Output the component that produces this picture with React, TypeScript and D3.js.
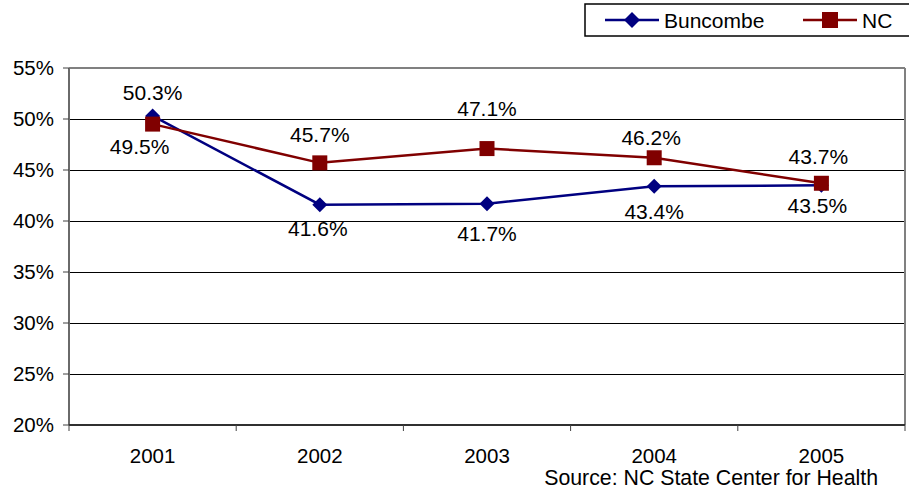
import React from "react";
import * as d3 from "d3";

const years = ["2001", "2002", "2003", "2004", "2005"];
const buncombe = [50.3, 41.6, 41.7, 43.4, 43.5];
const nc = [49.5, 45.7, 47.1, 46.2, 43.7];
const yTicks = [20, 25, 30, 35, 40, 45, 50, 55];
const sourceText = "Source: NC State Center for Health";

// label placement offsets (px) relative to each point
const buncombeLabelDy = [-24, 24, 30, 25, 20];
const buncombeLabelDx = [0, -2, 0, 0, -4];
const ncLabelDy = [22, -28, -40, -20, -27];
const ncLabelDx = [-13, 0, 0, -3, -3];

const W = 909;
const H = 489;
const M = { left: 69, right: 905, top: 68, bottom: 425 };
const BLUE = "#000080";
const RED = "#800000";
const FONT = "Liberation Sans, Arial, sans-serif";

export default function App() {
  const x = d3
    .scaleBand<string>()
    .domain(years)
    .range([M.left, M.right]);
  const y = d3.scaleLinear().domain([20, 55]).range([M.bottom, M.top]);
  const cx = (yr: string) => (x(yr) as number) + x.bandwidth() / 2;

  const line = d3
    .line<number>()
    .x((_, i) => cx(years[i]))
    .y((d) => y(d));

  const boundaries = years.map((yr) => x(yr) as number).concat([M.right]);

  const diamond = (px: number, py: number, r: number) =>
    `M${px},${py - r}L${px + r},${py}L${px},${py + r}L${px - r},${py}Z`;

  return (
    <svg
      width={W}
      height={H}
      style={{ position: "absolute", left: 0, top: 0, background: "#fff" }}
      fontFamily={FONT}
    >
      <rect x={0} y={0} width={W} height={H} fill="#fff" />
      {/* gridlines */}
      {yTicks
        .filter((t) => t !== 20 && t !== 55)
        .map((t) => (
          <line
            key={t}
            x1={M.left}
            x2={M.right}
            y1={Math.round(y(t)) + 0.5}
            y2={Math.round(y(t)) + 0.5}
            stroke="#000"
            strokeWidth={1}
            shapeRendering="crispEdges"
          />
        ))}
      {/* plot frame */}
      <line x1={M.left} x2={M.right} y1={M.top} y2={M.top} stroke="#808080" strokeWidth={2} />
      <line x1={M.right} x2={M.right} y1={M.top} y2={M.bottom} stroke="#808080" strokeWidth={2} />
      <line x1={M.left} x2={M.left} y1={M.top} y2={M.bottom} stroke="#6a6a6a" strokeWidth={2} />
      <line x1={M.left} x2={M.right} y1={M.bottom} y2={M.bottom} stroke="#303030" strokeWidth={2} />
      {/* y ticks */}
      {yTicks.map((t) => (
        <g key={t}>
          <line x1={M.left - 6} x2={M.left} y1={y(t)} y2={y(t)} stroke="#404040" strokeWidth={1} />
          <text
            x={54}
            y={y(t)}
            dy="0.36em"
            textAnchor="end"
            fontSize={20.5}
            fill="#000"
          >
            {t}%
          </text>
        </g>
      ))}
      {/* x ticks */}
      {boundaries.map((b, i) => (
        <line key={i} x1={b} x2={b} y1={M.bottom} y2={M.bottom + 6} stroke="#404040" strokeWidth={1} />
      ))}
      {years.map((yr) => (
        <text key={yr} x={cx(yr)} y={462.5} textAnchor="middle" fontSize={20.5} fill="#000">
          {yr}
        </text>
      ))}
      {/* series lines */}
      <path d={line(buncombe) || ""} fill="none" stroke={BLUE} strokeWidth={2.5} />
      {buncombe.map((v, i) => (
        <path key={i} d={diamond(cx(years[i]), y(v), 7.5)} fill={BLUE} />
      ))}
      <path d={line(nc) || ""} fill="none" stroke={RED} strokeWidth={2.5} />
      {nc.map((v, i) => (
        <rect key={i} x={cx(years[i]) - 7.5} y={y(v) - 7.5} width={15} height={15} fill={RED} />
      ))}
      {/* labels */}
      {buncombe.map((v, i) => (
        <text
          key={"b" + i}
          x={cx(years[i]) + buncombeLabelDx[i]}
          y={y(v) + buncombeLabelDy[i]}
          dy="0.36em"
          textAnchor="middle"
          fontSize={21}
          fill="#000"
        >
          {v.toFixed(1)}%
        </text>
      ))}
      {nc.map((v, i) => (
        <text
          key={"n" + i}
          x={cx(years[i]) + ncLabelDx[i]}
          y={y(v) + ncLabelDy[i]}
          dy="0.36em"
          textAnchor="middle"
          fontSize={21}
          fill="#000"
        >
          {v.toFixed(1)}%
        </text>
      ))}
      {/* legend */}
      <rect x={585} y={4} width={330} height={32} fill="#fff" stroke="#000" strokeWidth={1.5} />
      <line x1={605} x2={659} y1={20} y2={20} stroke={BLUE} strokeWidth={2.5} />
      <path d={diamond(632, 20, 8)} fill={BLUE} />
      <text x={664} y={20} dy="0.36em" fontSize={21} fill="#000">
        Buncombe
      </text>
      <line x1={803} x2={857} y1={20} y2={20} stroke={RED} strokeWidth={2.5} />
      <rect x={822} y={12} width={16} height={16} fill={RED} />
      <text x={862} y={20} dy="0.36em" fontSize={21} fill="#000">
        NC
      </text>
      {/* source */}
      <text x={878} y={485} textAnchor="end" fontSize={21.3} fill="#000">
        {sourceText}
      </text>
    </svg>
  );
}
